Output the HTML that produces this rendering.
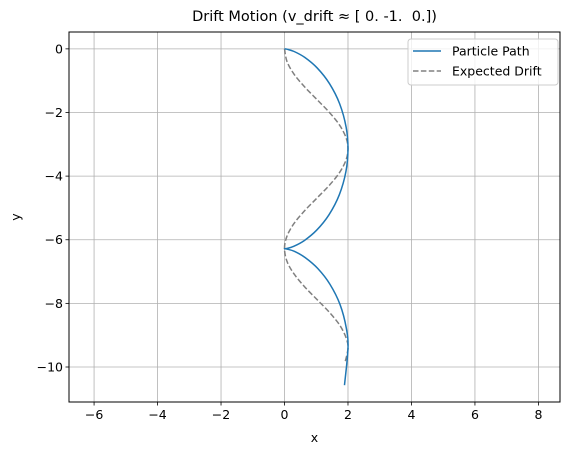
<!DOCTYPE html>
<html><head><meta charset="utf-8"><style>
body{margin:0;background:#fff}
svg{display:block;font-family:"DejaVu Sans","Liberation Sans",sans-serif}
</style></head><body>
<svg id="chart" width="574" height="455">
<rect width="574" height="455" fill="#fff"/>
<g id="grid"></g>
<g id="ticks"></g>
<g id="series"></g>
<rect x="69" y="32" width="491" height="370" fill="none" stroke="#000" stroke-width="1"/>
<text x="314.5" y="21" font-size="14.5" text-anchor="middle" xml:space="preserve" style="white-space:pre">Drift Motion (v_drift ≈ [ 0. -1.  0.])</text>
<text x="314.5" y="442" font-size="12.5" text-anchor="middle">x</text>
<text x="20" y="217" font-size="12.5" text-anchor="middle" transform="rotate(-90 20 217)">y</text>
<g>
<rect x="408" y="39" width="150" height="46" rx="3" fill="#fff" fill-opacity="0.8" stroke="#ccc"/>
<line x1="413" y1="51" x2="441" y2="51" stroke="#1f77b4" stroke-width="1.5"/>
<text x="452" y="55.5" font-size="12.5">Particle Path</text>
<line x1="413" y1="71" x2="441" y2="71" stroke="#808080" stroke-width="1.5" stroke-dasharray="5.5,2.4"/>
<text x="452" y="75.5" font-size="12.5">Expected Drift</text>
</g>
</svg>
<script>
const xTicks=[-6,-4,-2,0,2,4,6,8];
const yTicks=[0,-2,-4,-6,-8,-10];
const pathX=[0,0.079,0.303,0.638,1.029,1.416,1.737,1.942,2,1.936,1.726,1.401,1.012,0.622,0.291,0.073,0,0.086,0.319,0.653,1.045,1.431,1.75,1.948,2,1.89];
const pathY=[0,-0.011,-0.083,-0.268,-0.6,-1.091,-1.725,-2.465,-3.142,-3.851,-4.588,-5.216,-5.7,-6.026,-6.206,-6.274,-6.283,-6.295,-6.367,-6.562,-6.901,-7.398,-8.037,-8.782,-9.425,-10.57];
const driftX=[0,0.079,0.303,0.638,1.029,1.416,1.737,1.942,2,1.936,1.726,1.401,1.012,0.622,0.291,0.073,0,0.086,0.319,0.653,1.045,1.431,1.75,1.948,2,1.902];
const driftY=[0,-0.4,-0.8,-1.2,-1.6,-2,-2.4,-2.8,-3.142,-3.5,-3.9,-4.3,-4.7,-5.1,-5.5,-5.9,-6.283,-6.7,-7.1,-7.5,-7.9,-8.3,-8.7,-9.1,-9.425,-9.87];
const L=69,R=560,T=32,B=402,xMin=-6.79,xMax=8.68,yMin=-11.1,yMax=0.53;
const sx=v=>L+(v-xMin)/(xMax-xMin)*(R-L);
const sy=v=>B-(v-yMin)/(yMax-yMin)*(B-T);
const NS="http://www.w3.org/2000/svg";
const grid=document.getElementById('grid'),ticks=document.getElementById('ticks'),ser=document.getElementById('series');
function mk(tag,attrs,parent){const e=document.createElementNS(NS,tag);for(const k in attrs)e.setAttribute(k,attrs[k]);parent.appendChild(e);return e;}
const fmt=v=>v<0?'\u2212'+Math.abs(v):String(v);
xTicks.forEach(v=>{const x=sx(v);
 const g=mk('line',{x1:x,x2:x,y1:T,y2:B,stroke:'#b0b0b0','stroke-width':0.8},grid);
 
 
 mk('line',{x1:x,x2:x,y1:B,y2:B+3.5,stroke:'#000','stroke-width':0.8},ticks);
 const t=mk('text',{x:x,y:B+17,'font-size':12.5,'text-anchor':'middle'},ticks);t.textContent=fmt(v);
 
 
});
yTicks.forEach(v=>{const y=sy(v);
 const g=mk('line',{x1:L,x2:R,y1:y,y2:y,stroke:'#b0b0b0','stroke-width':0.8},grid);
 
 
 mk('line',{x1:L-3.5,x2:L,y1:y,y2:y,stroke:'#000','stroke-width':0.8},ticks);
 const t=mk('text',{x:L-6,y:y+4.5,'font-size':12.5,'text-anchor':'end'},ticks);t.textContent=fmt(v);
 
 
});
function smooth(xs,ys){const p=xs.map((x,i)=>[sx(x),sy(ys[i])]);let d='M'+p[0][0]+','+p[0][1];
 for(let i=0;i<p.length-1;i++){const p0=p[i-1]||p[i],p1=p[i],p2=p[i+1],p3=p[i+2]||p2;
  d+=' C'+(p1[0]+(p2[0]-p0[0])/6)+','+(p1[1]+(p2[1]-p0[1])/6)+' '+(p2[0]-(p3[0]-p1[0])/6)+','+(p2[1]-(p3[1]-p1[1])/6)+' '+p2[0]+','+p2[1];}
 return d;}
const dr=mk('path',{d:smooth(driftX,driftY),fill:'none',stroke:'#808080','stroke-width':1.5,'stroke-dasharray':'5.5,2.4'},ser);


const pp=mk('path',{d:smooth(pathX,pathY),fill:'none',stroke:'#1f77b4','stroke-width':1.5},ser);


</script>
</body></html>
